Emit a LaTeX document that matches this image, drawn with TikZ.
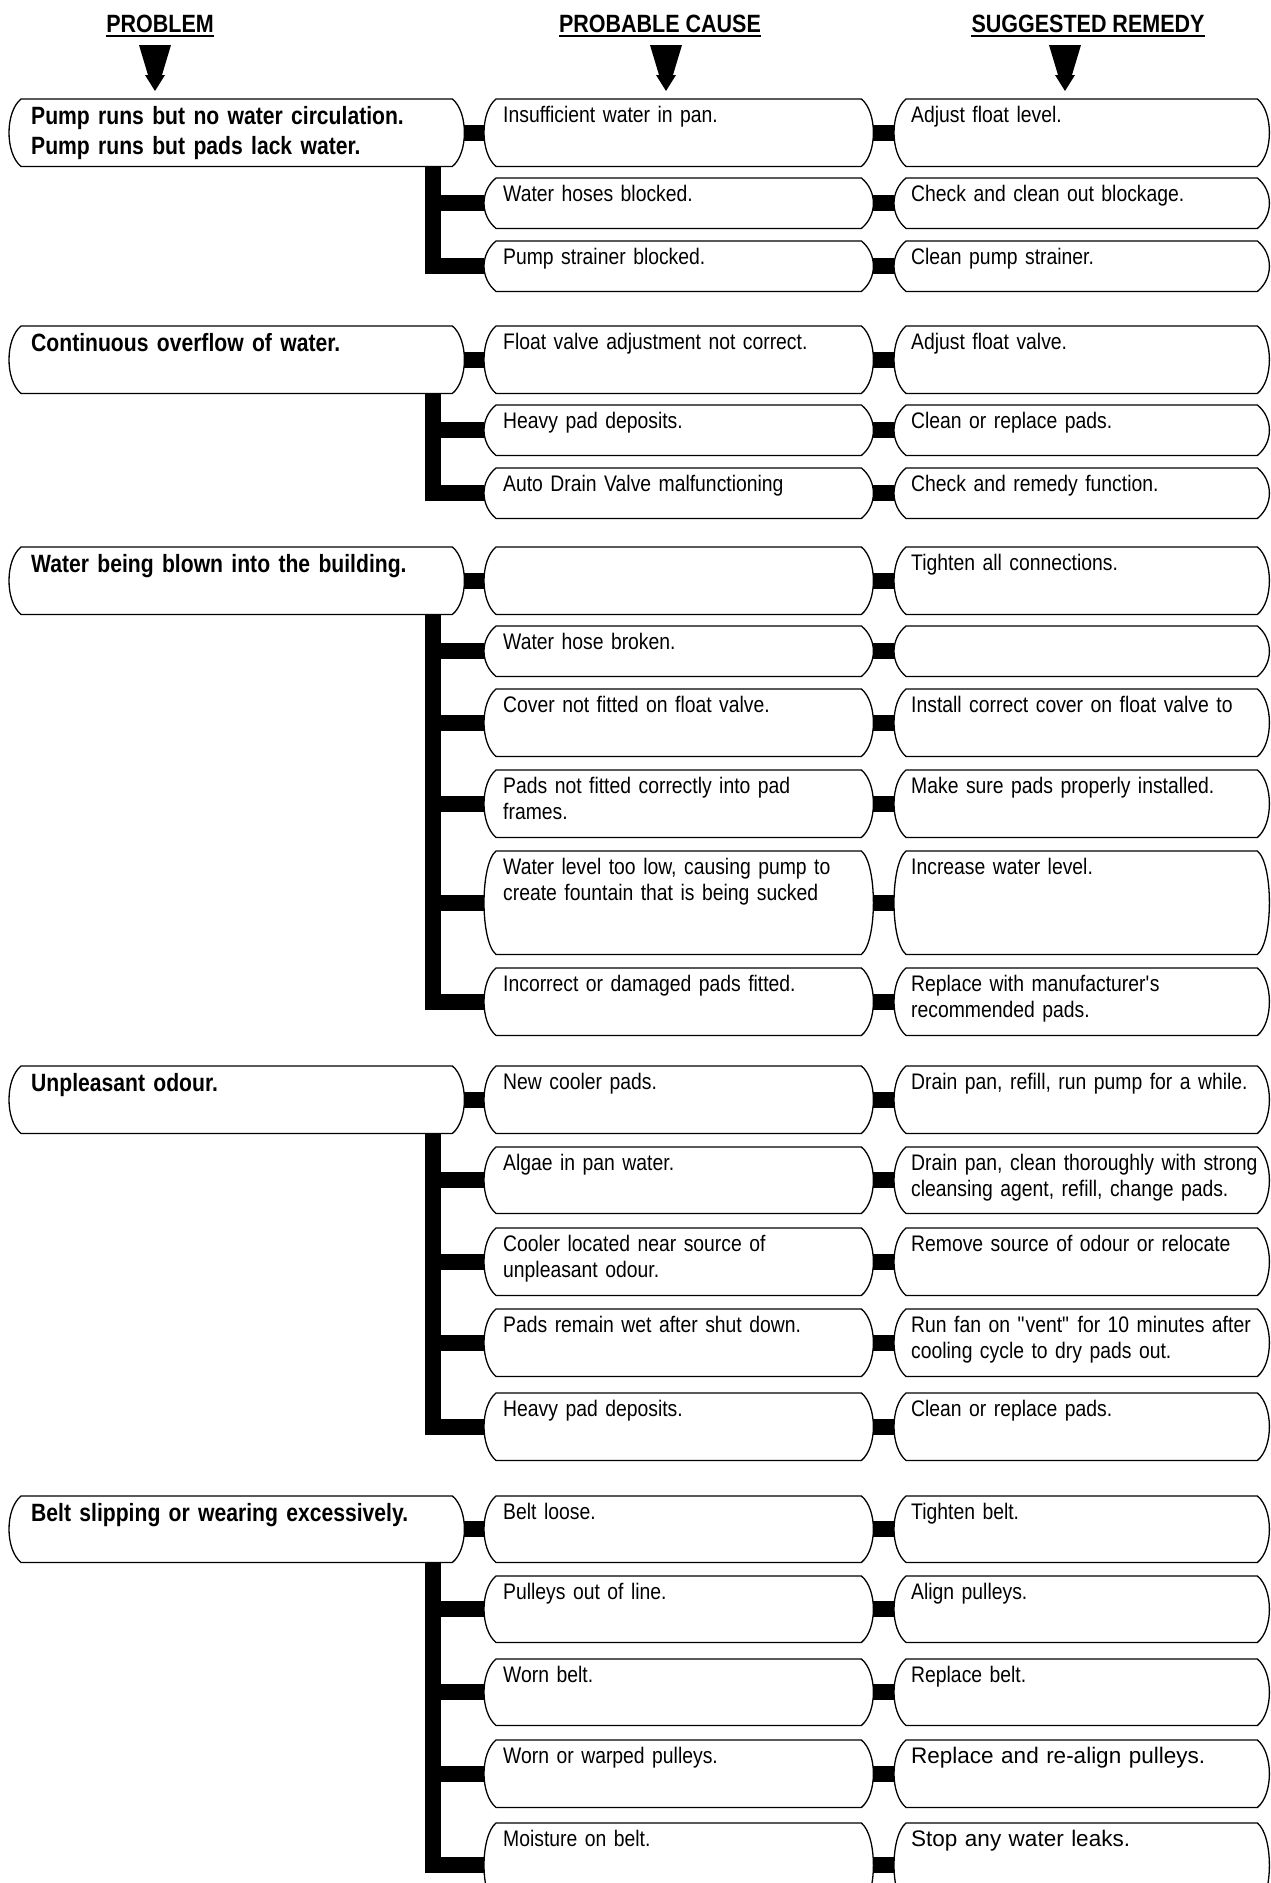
\documentclass[tikz,border=0pt]{standalone}
\usepackage{fontspec}
\setmainfont{Liberation Sans}[FakeStretch=0.86]
\newfontfamily\widefont{Liberation Sans}
\newfontfamily\probfont{Liberation Sans}[FakeStretch=0.845]

\tikzset{
  head/.style={font=\bfseries\fontsize{25}{30}\selectfont, inner sep=0pt, anchor=base},
  probbox/.style={rectangle, inner sep=0pt, anchor=north west, text width=455pt,
    text height=25pt, text depth={#1pt-25pt},
    font=\probfont\bfseries\fontsize{25}{30}\selectfont,
    execute at begin node={\raggedright\leftskip=22pt}},
  causebox/.style={rectangle, inner sep=0pt, anchor=north west, text width=389pt,
    text height=23pt, text depth={#1pt-23pt},
    font=\fontsize{22.5}{26.5}\selectfont,
    execute at begin node={\raggedright\leftskip=19pt}},
  remedybox/.style={rectangle, inner sep=0pt, anchor=north west, text width=375pt,
    text height=23pt, text depth={#1pt-23pt},
    font=\fontsize{22.5}{26.5}\selectfont,
    execute at begin node={\raggedright\leftskip=17pt}},
  remwide/.style={remedybox=#1, font=\widefont\fontsize{22.5}{26.5}\selectfont},
  outline/.style={line width=1.3pt},
  bar/.style={line width=16pt}
}

% rounded-end outline round a box node
\newcommand{\boxoutline}[1]{%
  \draw[outline] ([xshift=12pt]#1.north west) -- ([xshift=-12pt]#1.north east)
    .. controls +(16,13) and +(16,-13) .. ([xshift=-12pt]#1.south east)
    -- ([xshift=12pt]#1.south west)
    .. controls +(-16,-13) and +(-16,13) .. ([xshift=12pt]#1.north west) -- cycle;}

\begin{document}
\begin{tikzpicture}[x=1pt, y=-1pt]
    \useasboundingbox (0,0) rectangle (1271,1883);
    \fill[white] (0,0) rectangle (1271,1883);
    \clip (0,0) rectangle (1271,1883);

    % column heads
    \node[head] (hprob)  at (160,32)  {PROBLEM};
    \node[head] (hcause) at (660,32)  {PROBABLE CAUSE};
    \node[head] (hrem)   at (1088,32) {SUGGESTED REMEDY};
    \foreach \h in {hprob,hcause,hrem}
        \draw[line width=2pt] ([yshift=-3.5pt]\h.base west) -- ([yshift=-3.5pt]\h.base east);
    \foreach \ax in {155,666,1065}
        \fill ({\ax-16},45) -- ({\ax+16},45) -- ({\ax+7},75) -- ({\ax+10},75)
            -- (\ax,91) -- ({\ax-10},75) -- ({\ax-7},75) -- cycle;

    \coordinate (vx) at (433,0);

    % group 1
    \node[probbox=67]  (p1)  at (9,99)    {Pump runs but no water circulation.\\Pump runs but pads lack water.};
    \node[causebox=67] (c11) at (484,99)  {Insufficient water in pan.};
    \node[remedybox=67] (r11) at (894,99) {Adjust float level.};
    \node[causebox=50] (c12) at (484,178) {Water hoses blocked.};
    \node[remedybox=50] (r12) at (894,178) {Check and clean out blockage.};
    \node[causebox=50] (c13) at (484,241) {Pump strainer blocked.};
    \node[remedybox=50] (r13) at (894,241) {Clean pump strainer.};

    % group 2
    \node[probbox=67]  (p2)  at (9,326)   {Continuous overflow of water.};
    \node[causebox=67] (c21) at (484,326) {Float valve adjustment not correct.};
    \node[remedybox=67] (r21) at (894,326) {Adjust float valve.};
    \node[causebox=50] (c22) at (484,405) {Heavy pad deposits.};
    \node[remedybox=50] (r22) at (894,405) {Clean or replace pads.};
    \node[causebox=50] (c23) at (484,468) {Auto Drain Valve malfunctioning};
    \node[remedybox=50] (r23) at (894,468) {Check and remedy function.};

    % group 3
    \node[probbox=67]  (p3)  at (9,547)   {Water being blown into the building.};
    \node[causebox=67] (c31) at (484,547) {};
    \node[remedybox=67] (r31) at (894,547) {Tighten all connections.};
    \node[causebox=50] (c32) at (484,626) {Water hose broken.};
    \node[remedybox=50] (r32) at (894,626) {};
    \node[causebox=67] (c33) at (484,689) {Cover not fitted on float valve.};
    \node[remedybox=67] (r33) at (894,689) {Install correct cover on float valve to};
    \node[causebox=67] (c34) at (484,770) {Pads not fitted correctly into pad\\frames.};
    \node[remedybox=67] (r34) at (894,770) {Make sure pads properly installed.};
    \node[causebox=103] (c35) at (484,851) {Water level too low, causing pump to\\create fountain that is being sucked};
    \node[remedybox=103] (r35) at (894,851) {Increase water level.};
    \node[causebox=67] (c36) at (484,968) {Incorrect or damaged pads fitted.};
    \node[remedybox=67] (r36) at (894,968) {Replace with manufacturer\textquotesingle s\\recommended pads.};

    % group 4
    \node[probbox=67]  (p4)  at (9,1066)   {Unpleasant odour.};
    \node[causebox=67] (c41) at (484,1066) {New cooler pads.};
    \node[remedybox=67] (r41) at (894,1066) {Drain pan, refill, run pump for a while.};
    \node[causebox=66] (c42) at (484,1147) {Algae in pan water.};
    \node[remedybox=66] (r42) at (894,1147) {Drain pan, clean thoroughly with strong\\cleansing agent, refill, change pads.};
    \node[causebox=67] (c43) at (484,1228) {Cooler located near source of\\unpleasant odour.};
    \node[remedybox=67] (r43) at (894,1228) {Remove source of odour or relocate};
    \node[causebox=67] (c44) at (484,1309) {Pads remain wet after shut down.};
    \node[remedybox=67] (r44) at (894,1309) {Run fan on \textquotedbl vent\textquotedbl{} for 10 minutes after\\cooling cycle to dry pads out.};
    \node[causebox=67] (c45) at (484,1393) {Heavy pad deposits.};
    \node[remedybox=67] (r45) at (894,1393) {Clean or replace pads.};

    % group 5
    \node[probbox=66]  (p5)  at (9,1496)   {Belt slipping or wearing excessively.};
    \node[causebox=66] (c51) at (484,1496) {Belt loose.};
    \node[remedybox=66] (r51) at (894,1496) {Tighten belt.};
    \node[causebox=66] (c52) at (484,1576) {Pulleys out of line.};
    \node[remedybox=66] (r52) at (894,1576) {Align pulleys.};
    \node[causebox=66] (c53) at (484,1659) {Worn belt.};
    \node[remedybox=66] (r53) at (894,1659) {Replace belt.};
    \node[causebox=67] (c54) at (484,1740) {Worn or warped pulleys.};
    \node[remwide=67]  (r54) at (894,1740) {Replace and re-align pulleys.};
    \node[causebox=84] (c55) at (484,1823) {Moisture on belt.};
    \node[remwide=84]  (r55) at (894,1823) {Stop any water leaks.};

    % outlines and bars
    \foreach \g/\k in {1/3,2/3,3/6,4/5,5/5} {
        \boxoutline{p\g}
        \draw[bar] (p\g.east) -- (c\g1.west);
        \foreach \i in {1,...,\k} {
            \boxoutline{c\g\i}
            \boxoutline{r\g\i}
            \draw[bar] (c\g\i.east) -- (r\g\i.west);
        }
        \foreach \i in {2,...,\k}
            \draw[bar] (vx |- c\g\i.west) -- (c\g\i.west);
        \draw[bar] (p\g.south -| vx) |- (c\g\k.west);
    }
\end{tikzpicture}
\end{document}
